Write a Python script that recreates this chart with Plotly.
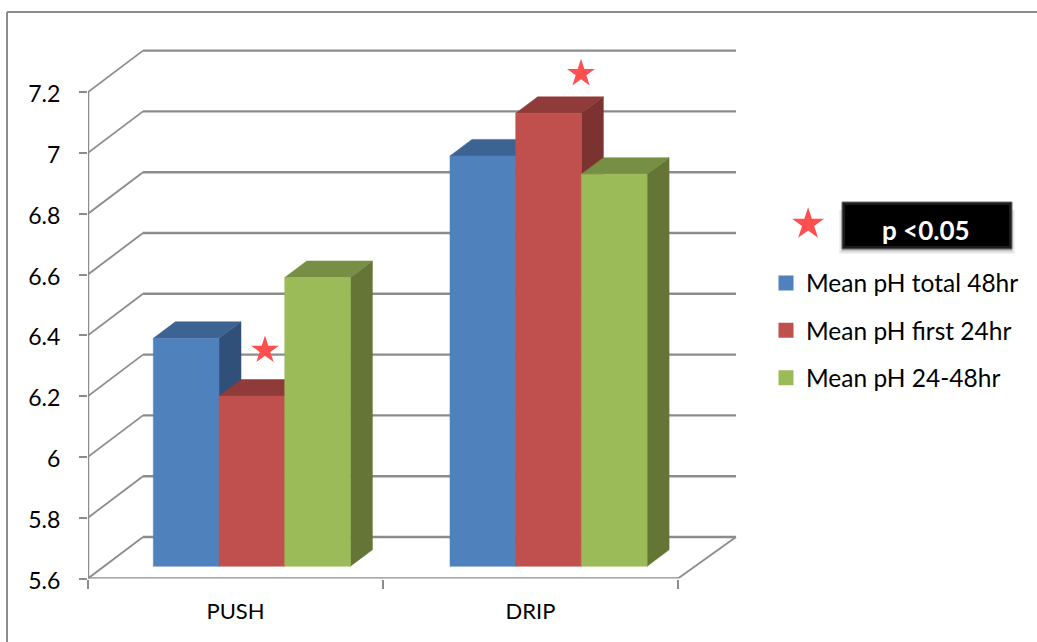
import plotly.graph_objects as go

# Chart values
categories = ["PUSH", "DRIP"]
series_names = ["Mean pH total 48hr", "Mean pH first 24hr", "Mean pH 24-48hr"]
total_48hr = [6.35, 6.95]
first_24hr = [6.16, 7.09]
later_24_48hr = [6.55, 6.89]
series_values = [total_48hr, first_24hr, later_24_48hr]
y_ticks = [5.6, 5.8, 6.0, 6.2, 6.4, 6.6, 6.8, 7.0, 7.2]
y_tick_labels = ["5.6", "5.8", "6", "6.2", "6.4", "6.6", "6.8", "7", "7.2"]

# Significance stars, in axis units
star_x = [0.6, 1.6712]
star_y = [6.351, 7.261]
key_star_x = [2.441]
key_star_y = [6.766]

# Face colours per series
front_colors = ["#4F81BD", "#C0504D", "#9BBB59"]
top_colors = ["#3C6391", "#8F3B39", "#778F44"]
side_colors = ["#305079", "#7C3230", "#647536"]
grid_color = "#8C8C8C"
star_color = "#FF4F4F"

# Pixel scale of the axes
W, H = 1037, 642
X0, Y0 = 88.0, 578.5
PX_PER_CAT = 295.0
PX_PER_UNIT = 304.0
Y_MIN = 5.6

# Depth of the box: wall offset, bar offset and bar thickness in axis units
WALL_DX, WALL_DY = 55 / PX_PER_CAT, 41.5 / PX_PER_UNIT
WALL_END = 2.0 + 58 / PX_PER_CAT
BAR_BASE = Y_MIN + 12.2 / PX_PER_UNIT
BAR_LIFT = BAR_BASE - Y_MIN
DEPTH_DX, DEPTH_DY = 22 / PX_PER_CAT, 16.5 / PX_PER_UNIT
GROUP_LEFT = [0.2214, 1.2271]
BAR_WIDTH = 65.7 / PX_PER_CAT
X_END = 2.0

fig = go.Figure()


def polygon(xs, ys, color):
    fig.add_trace(go.Scatter(
        x=xs + xs[:1], y=ys + ys[:1], mode="lines", fill="toself",
        fillcolor=color, line=dict(color=color, width=0.5),
        hoverinfo="skip", showlegend=False, cliponaxis=False,
    ))


def segment(xs, ys, width=2.0):
    fig.add_trace(go.Scatter(
        x=xs, y=ys, mode="lines", line=dict(color=grid_color, width=width),
        hoverinfo="skip", showlegend=False, cliponaxis=False,
    ))


# Back wall gridlines and their returns along the side wall
for tick in y_ticks:
    segment([WALL_DX, WALL_END], [tick + WALL_DY] * 2, 2.4)
    segment([0, WALL_DX], [tick, tick + WALL_DY], 1.8)

# Floor edges and the front axis lines
segment([X_END, WALL_END], [Y_MIN, Y_MIN + WALL_DY], 1.8)
segment([0, X_END], [Y_MIN, Y_MIN], 2.4)
segment([0, 0], [Y_MIN, y_ticks[-1]], 2.4)

# Bars, drawn left to right so each one overlaps the side of its neighbour
for g in range(len(categories)):
    for s, values in enumerate(series_values):
        v = values[g] + BAR_LIFT
        left = GROUP_LEFT[g] + s * BAR_WIDTH
        right = left + BAR_WIDTH
        polygon([right, right + DEPTH_DX, right + DEPTH_DX, right],
                [BAR_BASE, BAR_BASE + DEPTH_DY, v + DEPTH_DY, v], side_colors[s])
        polygon([left, left + DEPTH_DX, right + DEPTH_DX, right],
                [v, v + DEPTH_DY, v + DEPTH_DY, v], top_colors[s])
        polygon([left, right, right, left],
                [BAR_BASE, BAR_BASE, v, v], front_colors[s])

# Stars over the significant bars and the key star beside the p-value box
fig.add_trace(go.Scatter(
    x=star_x, y=star_y, mode="markers", hoverinfo="skip", showlegend=False,
    marker=dict(symbol="star", size=21, color=star_color, line=dict(width=0)),
))
fig.add_trace(go.Scatter(
    x=key_star_x, y=key_star_y, mode="markers", hoverinfo="skip", showlegend=False,
    marker=dict(symbol="star", size=24, color=star_color, line=dict(width=0)),
))

# Legend entries
for name, color in zip(series_names, front_colors):
    fig.add_trace(go.Scatter(
        x=[None], y=[None], mode="markers", name=name, legendgroup=name,
        marker=dict(symbol="square", size=15, color=color, line=dict(width=0)),
    ))


def px_rect(x0, y0, x1, y1, **kw):
    return dict(type="rect", xref="paper", yref="paper", layer="above",
                x0=x0 / W, x1=x1 / W, y0=1 - y0 / H, y1=1 - y1 / H, **kw)


# Outer frame, open towards the right and bottom edges
frame = dict(color=grid_color, width=2)
shapes = [
    dict(type="line", xref="paper", yref="paper", x0=7 / W, x1=1, y0=1 - 12 / H, y1=1 - 12 / H, line=frame),
    dict(type="line", xref="paper", yref="paper", x0=7 / W, x1=7 / W, y0=1 - 12 / H, y1=0, line=frame),
]
# Soft drop shadow and bevelled black box for the p-value
for grow, alpha in [(4, 0.05), (2.5, 0.09), (1, 0.14)]:
    shapes.append(px_rect(842 - grow + 1, 210, 1012 + grow - 1, 249 + grow + 1,
                          fillcolor=f"rgba(0,0,0,{alpha})", line=dict(width=0)))
shapes.append(px_rect(842, 202, 1012, 249, fillcolor="#1C1C1C", line=dict(color="#6E6E6E", width=1)))
shapes.append(px_rect(845, 205, 1009, 246, fillcolor="#000000", line=dict(width=0)))

fig.update_layout(
    template="none",
    width=W, height=H,
    margin=dict(l=0, r=0, t=0, b=0, autoexpand=False),
    paper_bgcolor="white", plot_bgcolor="white",
    font=dict(family="Lato, Carlito, sans-serif", color="#000000"),
    shapes=shapes,
    annotations=[dict(
        text="<b>p &lt;0.05</b>", xref="paper", yref="paper", x=926 / W, y=1 - 230 / H,
        showarrow=False, xanchor="center", yanchor="middle",
        font=dict(size=26, color="white", family="Lato, sans-serif"),
    )],
    legend=dict(
        x=766 / W, y=1 - 260.5 / H, xanchor="left", yanchor="top",
        font=dict(size=24.5), tracegroupgap=12.5, bgcolor="rgba(0,0,0,0)",
        itemclick=False, itemdoubleclick=False,
    ),
    xaxis=dict(
        automargin=False,
        domain=[X0 / W, 1], range=[0, (W - X0) / PX_PER_CAT],
        showgrid=False, zeroline=False, showline=False,
        tickmode="array", tickvals=[0.5, 1.5], ticktext=categories,
        ticks="", ticklabelstandoff=17, tickfont=dict(size=22),
        minor=dict(tickmode="array", tickvals=[0, 1, 2], ticks="outside",
                   ticklen=9, tickwidth=2, tickcolor=grid_color, showgrid=False),
    ),
    yaxis=dict(
        automargin=False,
        domain=[1 - Y0 / H, 1],
        showgrid=False, zeroline=False, showline=False,
        range=[Y_MIN, Y_MIN + Y0 / PX_PER_UNIT],
        tickmode="array", tickvals=y_ticks, ticktext=y_tick_labels,
        ticks="outside", ticklen=8, tickwidth=2, tickcolor=grid_color,
        ticklabelstandoff=14, ticklabelshift=2, tickfont=dict(size=23),
    ),
)

fig.write_html("out.html", config=dict(displayModeBar=False))
